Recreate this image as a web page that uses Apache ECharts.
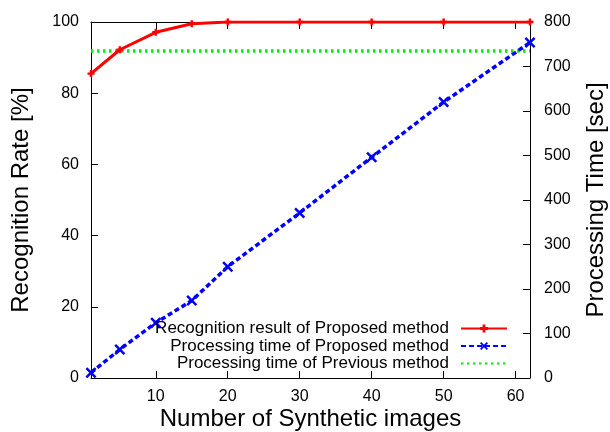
<!DOCTYPE html>
<html>
<head>
<meta charset="utf-8">
<script src="https://cdn.jsdelivr.net/npm/echarts@6/dist/echarts.min.js"></script>
<style>html,body{margin:0;padding:0;background:#fff}#c{width:610px;height:432px}</style>
</head>
<body>
<div id="c"></div>
<script>
var imagesCount = [1, 5, 10, 15, 20, 30, 40, 50, 62];
var recognitionRate = [85.5, 92.2, 97.1, 99.5, 100, 100, 100, 100, 100];
var processingTime = [12, 64, 124, 174, 250, 371, 496, 620, 754];
var previousTime = 735;
var xTickLabels = [10, 20, 30, 40, 50, 60];
var seriesNames = ['Recognition result of Proposed method', 'Processing time of Proposed method', 'Processing time of Previous method'];

var FONT = "'Liberation Sans', Arial, Helvetica, sans-serif";
var plusPath = 'path://M2.6,0h2.8v2.6h2.6v2.8h-2.6v2.6h-2.8v-2.6h-2.6v-2.8h2.6z';
var crossPath = 'path://M0,1.6L1.6,0L5,3.4L8.4,0L10,1.6L6.6,5L10,8.4L8.4,10L5,6.6L1.6,10L0,8.4L3.4,5z';

function pairs(xs, ys) { return xs.map(function (x, i) { return [x, ys[i]]; }); }

var chart = echarts.init(document.getElementById('c'));
chart.setOption({
  animation: false,
  backgroundColor: '#fff',
  textStyle: { fontFamily: FONT },
  grid: { left: 91, right: 80, top: 22, bottom: 54, containLabel: false, outerBoundsMode: 'none' },
  legend: {
    orient: 'vertical', align: 'right', right: 102, top: 320, padding: 0,
    itemWidth: 46, itemHeight: 10, itemGap: 0.5,
    textStyle: { fontFamily: FONT, fontSize: 17, lineHeight: 16, color: '#000', padding: [0, 7, 0, 0] },
    data: [
      { name: seriesNames[0] },
      { name: seriesNames[1] },
      { name: seriesNames[2], itemStyle: { opacity: 0 } }
    ]
  },
  xAxis: [{
    type: 'value', min: 1, max: 62, position: 'bottom',
    name: 'Number of Synthetic images', nameLocation: 'middle', nameGap: 29, nameMoveOverlap: false,
    nameTextStyle: { fontSize: 24, color: '#000', fontFamily: FONT },
    axisLine: { show: true, onZero: false, lineStyle: { color: '#000', width: 1 } },
    axisTick: { show: true, inside: true, length: 7, customValues: xTickLabels, lineStyle: { color: '#000' } },
    axisLabel: { customValues: xTickLabels, fontSize: 16, color: '#000', margin: 11, fontFamily: FONT },
    splitLine: { show: false }
  }, {
    type: 'value', min: 1, max: 62, position: 'top',
    axisLine: { show: true, onZero: false, lineStyle: { color: '#000', width: 1 } },
    axisTick: { show: true, inside: true, length: 7, customValues: xTickLabels, lineStyle: { color: '#000' } },
    axisLabel: { show: false },
    splitLine: { show: false }
  }],
  yAxis: [{
    type: 'value', min: 0, max: 100, interval: 20, position: 'left',
    name: 'Recognition Rate [%]', nameLocation: 'middle', nameGap: 58, nameRotate: 90,
    nameTextStyle: { fontSize: 24, color: '#000', fontFamily: FONT },
    axisLine: { show: true, onZero: false, lineStyle: { color: '#000', width: 1 } },
    axisTick: { show: true, inside: true, length: 7, lineStyle: { color: '#000' } },
    axisLabel: { fontSize: 16, color: '#000', margin: 12, fontFamily: FONT },
    splitLine: { show: false }
  }, {
    type: 'value', min: 0, max: 800, interval: 100, position: 'right',
    name: 'Processing Time [sec]', nameLocation: 'middle', nameGap: 54, nameRotate: 90,
    nameTextStyle: { fontSize: 24, color: '#000', fontFamily: FONT },
    axisLine: { show: true, onZero: false, lineStyle: { color: '#000', width: 1 } },
    axisTick: { show: true, inside: true, length: 7, lineStyle: { color: '#000' } },
    axisLabel: { fontSize: 16, color: '#000', margin: 14, fontFamily: FONT },
    splitLine: { show: false }
  }],
  series: [{
    name: seriesNames[0], type: 'line', yAxisIndex: 0,
    data: pairs(imagesCount, recognitionRate),
    symbol: plusPath, symbolSize: 7, showAllSymbol: true,
    lineStyle: { color: '#ff0000', width: 3 },
    itemStyle: { color: '#ff0000' }, z: 4
  }, {
    name: seriesNames[1], type: 'line', yAxisIndex: 1,
    data: pairs(imagesCount, processingTime),
    symbol: crossPath, symbolSize: 11, showAllSymbol: true,
    lineStyle: { color: '#0000ff', width: 3.5, type: [5, 3] },
    itemStyle: { color: '#0000ff' }, z: 3
  }, {
    name: seriesNames[2], type: 'line', yAxisIndex: 1,
    data: [[imagesCount[0], previousTime], [imagesCount[imagesCount.length - 1], previousTime]],
    symbol: 'none',
    lineStyle: { color: '#00ee00', width: 3.5, type: [2.5, 3.5] },
    itemStyle: { color: '#00ee00' }, z: 2
  }]
});
</script>
</body>
</html>
